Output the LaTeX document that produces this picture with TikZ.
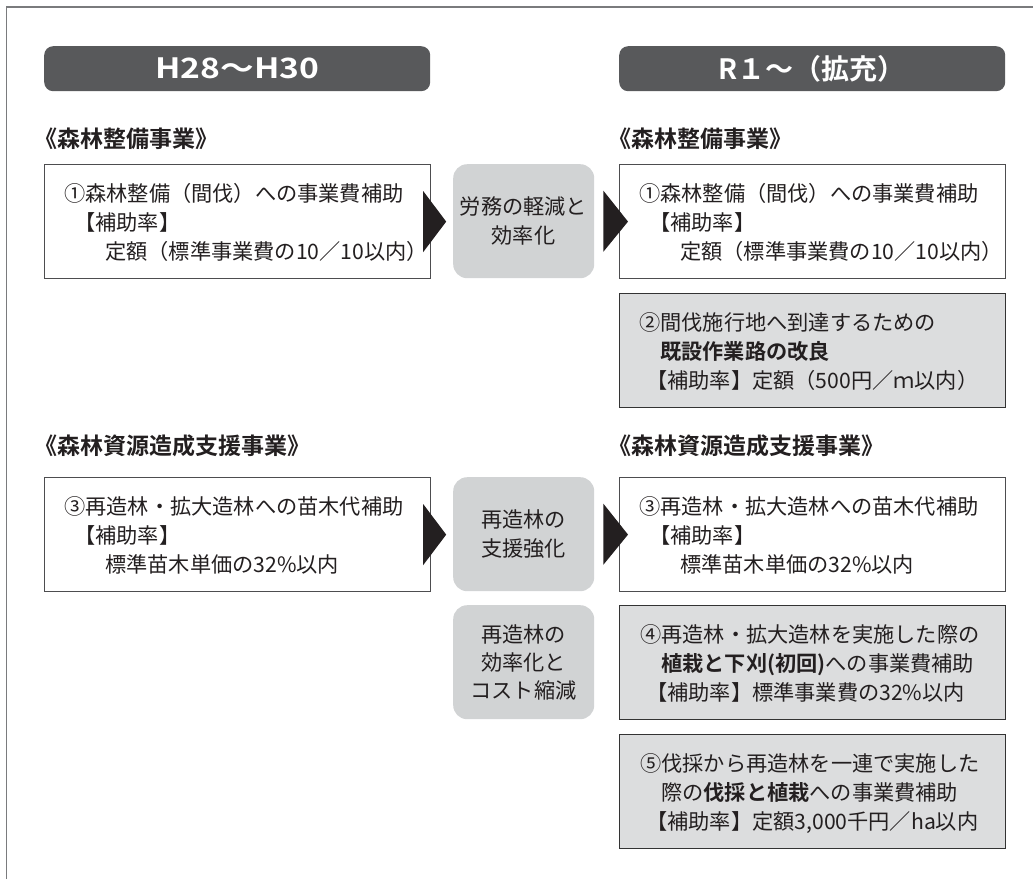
\documentclass[tikz,border=0pt]{standalone}
\usepackage{fontspec}
\setmainfont[BoldFont={Noto Sans CJK JP Bold}]{Noto Sans CJK JP}
\usetikzlibrary{calc}
\definecolor{hdr}{HTML}{58595B}
\definecolor{mid}{HTML}{D1D3D4}
\definecolor{gbox}{HTML}{DCDDDE}
\definecolor{ink}{HTML}{231F20}
\definecolor{bord}{HTML}{4D4D4F}
\definecolor{framec}{HTML}{7A7B7D}
\tikzset{
  hdrbox/.style={fill=hdr, rounded corners=9pt, minimum width=386pt, minimum height=45pt, inner sep=0pt, anchor=north west, text=white, font=\fontsize{28}{28}\selectfont\bfseries},
  wbox/.style={draw=bord, line width=1.2pt, fill=white, minimum width=386pt, minimum height=114pt, inner sep=0pt, anchor=north west},
  gbx/.style={wbox, fill=gbox, draw=black!80},
  midbox/.style={fill=mid, rounded corners=14pt, minimum width=141pt, minimum height=114pt, inner sep=0pt, anchor=north west},
  txt/.style={inner sep=0pt, anchor=base west, text=ink, font=\fontsize{21.2}{29}\selectfont},
  ctxt/.style={txt, anchor=base},
  lbl/.style={txt, font=\fontsize{23}{29}\selectfont\bfseries},
  chev/.style={fill=ink},
  framel/.style={draw=framec, line width=1.3pt},
}
\begin{document}
\begin{tikzpicture}[x=1pt,y=-1pt]
\useasboundingbox (0,0) rectangle (1033,879);
\draw[framel] (6.5,879) -- (6.5,7) -- (1033,7);

% headers
\node[hdrbox] (hL) at (44,46) {\scalebox{1.2}[1]{H28～H30}};
\node[hdrbox] (hR) at (619,46) {R１～（拡充）};

% section labels
\node[lbl] (lbA) at (34,147.5) {《森林整備事業》};
\node[lbl] (lbB) at (608,147.5) {《森林整備事業》};
\node[lbl] (lbC) at (34,454) {《森林資源造成支援事業》};
\node[lbl] (lbD) at (608,454) {《森林資源造成支援事業》};

% boxes
\node[wbox] (lb1) at (44,164) {};
\node[wbox] (lb3) at (44,477) {};
\node[midbox] (mb1) at (453,164) {};
\node[midbox] (mb2) at (453,477) {};
\node[midbox] (mb3) at (453,605) {};
\node[wbox] (rb1) at (619,164) {};
\node[gbx] (rb2) at (619,293) {};
\node[wbox] (rb3) at (619,477) {};
\node[gbx] (rb4) at (619,605) {};
\node[gbx] (rb5) at (619,734) {};

% left box 1
\node[txt] (lb1a) at (64,201) {①森林整備（間伐）への事業費補助};
\node[txt] (lb1b) at (74,230) {【補助率】};
\node[txt] (lb1c) at (105,259) {定額（標準事業費の10／10以内）};
% right box 1
\node[txt] (rb1a) at (639,201) {①森林整備（間伐）への事業費補助};
\node[txt] (rb1b) at (649,230) {【補助率】};
\node[txt] (rb1c) at (680,259) {定額（標準事業費の10／10以内）};
% right box 2
\node[txt] (rb2a) at (639,330) {②間伐施行地へ到達するための};
\node[txt] (rb2b) at (660,359) {\bfseries 既設作業路の改良};
\node[txt] (rb2c) at (646,388) {【補助率】定額（500円／ｍ以内）};
% left box 3
\node[txt] (lb3a) at (64,514) {③再造林・拡大造林への苗木代補助};
\node[txt] (lb3b) at (74,543) {【補助率】};
\node[txt] (lb3c) at (105,572) {標準苗木単価の32\%以内};
% right box 3
\node[txt] (rb3a) at (639,514) {③再造林・拡大造林への苗木代補助};
\node[txt] (rb3b) at (649,543) {【補助率】};
\node[txt] (rb3c) at (680,572) {標準苗木単価の32\%以内};
% right box 4
\node[txt] (rb4a) at (640,642) {④再造林・拡大造林を実施した際の};
\node[txt] (rb4b) at (661,671) {{\bfseries 植栽と下刈(初回)}への事業費補助};
\node[txt] (rb4c) at (646,700) {【補助率】標準事業費の32\%以内};
% right box 5
\node[txt] (rb5a) at (640,771) {⑤伐採から再造林を一連で実施した};
\node[txt] (rb5b) at (661,800) {際の{\bfseries 伐採と植栽}への事業費補助};
\node[txt] (rb5c) at (646,829) {【補助率】定額3,000千円／ha以内};

% middle texts
\node[ctxt] (m1a) at (523.5,214.5) {労務の軽減と};
\node[ctxt] (m1b) at (523.5,243.5) {効率化};
\node[ctxt] (m2a) at (523.5,527.5) {再造林の};
\node[ctxt] (m2b) at (523.5,556.5) {支援強化};
\node[ctxt] (m3a) at (523.5,642) {再造林の};
\node[ctxt] (m3b) at (523.5,670) {効率化と};
\node[ctxt] (m3c) at (523.5,698) {コスト縮減};

% chevrons
\fill[chev] ($(lb1.east)+(-8,-30.5)$) -- ($(lb1.east)+(-8,30.5)$) -- ($(lb1.east)+(15,0)$) -- cycle;
\fill[chev] ($(mb1.east)+(9,-30.5)$) -- ($(mb1.east)+(9,30.5)$) -- ($(rb1.west)+(9,0)$) -- cycle;
\fill[chev] ($(lb3.east)+(-8,-30.5)$) -- ($(lb3.east)+(-8,30.5)$) -- ($(lb3.east)+(15,0)$) -- cycle;
\fill[chev] ($(mb2.east)+(9,-30.5)$) -- ($(mb2.east)+(9,30.5)$) -- ($(rb3.west)+(9,0)$) -- cycle;
\end{tikzpicture}
\end{document}
